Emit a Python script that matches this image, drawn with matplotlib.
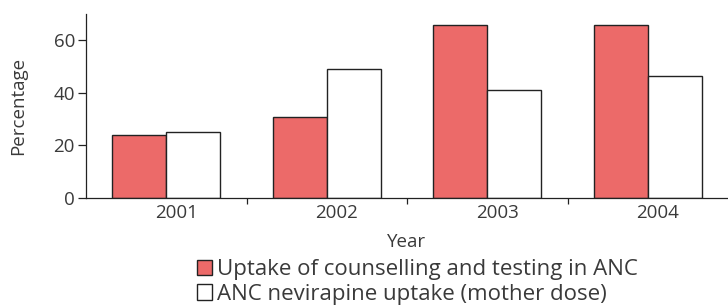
import matplotlib
matplotlib.use("Agg")
import matplotlib.pyplot as plt
import matplotlib.transforms as mtransforms
from matplotlib.patches import Patch
import numpy as np

years = ["2001", "2002", "2003", "2004"]
counselling = [24, 31, 66, 66]
nevirapine = [25, 49, 41, 46.5]
series_labels = ["Uptake of counselling and testing in ANC",
                 "ANC nevirapine uptake (mother dose)"]

plt.rcParams['font.family'] = ['Open Sans', 'DejaVu Sans']
txt = "#3a3a3a"

fig = plt.figure(figsize=(7.28, 3.07), dpi=100)
ax = fig.add_axes([86/728, 1-198/307, 1-86/728, (198-14)/307])

x = np.arange(len(years))
w = 0.335
red = "#EC6A69"
ax.bar(x - w/2, counselling, w, color=red, edgecolor="#222222", linewidth=1.0)
ax.bar(x + w/2, nevirapine, w, color="white", edgecolor="#222222", linewidth=1.0)

ax.set_xlim(-0.5, 3.5)
ax.set_ylim(0, 70)
ax.set_yticks([0, 20, 40, 60])
ax.tick_params(axis='y', direction='out', length=6, width=0.9, colors="#222222",
               labelcolor=txt, labelsize=13.5, pad=2)
ax.set_xticks(x)
ax.set_xticklabels(years)
ax.tick_params(axis='x', which='major', length=0, labelcolor=txt, labelsize=13.5, pad=4)
offset = mtransforms.ScaledTranslation(10/100, 0, fig.dpi_scale_trans)
for lab in ax.get_xticklabels():
    lab.set_transform(lab.get_transform() + offset)
ax.set_xticks(np.arange(0.5, 3.5, 1), minor=True)
ax.tick_params(axis='x', which='minor', direction='out', length=4, width=0.9, colors="#222222")

for s in ["top", "right"]:
    ax.spines[s].set_visible(False)
for s in ["left", "bottom"]:
    ax.spines[s].set_linewidth(0.9)
    ax.spines[s].set_color("#222222")

ax.set_ylabel("Percentage", color=txt, fontsize=13.5, labelpad=19)
ax.set_xlabel("Year", color=txt, fontsize=13.5, labelpad=8)

handles = [Patch(facecolor=red, edgecolor="#222222", linewidth=1.0),
           Patch(facecolor="white", edgecolor="#222222", linewidth=1.0)]
fig.legend(handles, series_labels, loc="center", bbox_to_anchor=(417/728, 1-282/307),
           frameon=False, fontsize=16, labelcolor=txt, handlelength=0.7, handleheight=0.7,
           handletextpad=0.2, labelspacing=0.15, borderpad=0)

fig.savefig("out.png", dpi=100)
